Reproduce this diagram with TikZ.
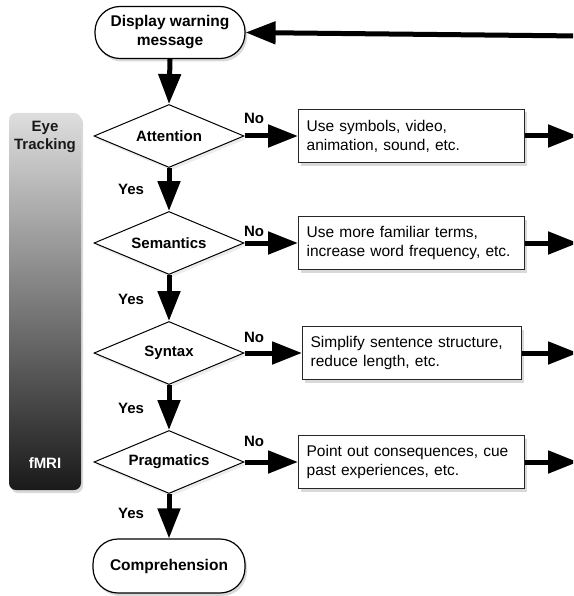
\documentclass[tikz,border=0pt]{standalone}
\usepackage{fontspec}
\setmainfont{Liberation Sans}
\usetikzlibrary{shapes.geometric,arrows.meta,shadows}
\begin{document}
\begin{tikzpicture}[x=1pt,y=-1pt,
 softshadow/.style={drop shadow={opacity=0.3,shadow xshift=2pt,shadow yshift=-3pt}},
 term/.style={draw=black, line width=1.2pt, rounded corners=25pt, minimum width=150pt, minimum height=52pt, fill=white, align=center, font=\bfseries\fontsize{15.5}{19}\selectfont, inner sep=0pt, softshadow},
 decision/.style={diamond, draw=black, line width=1pt, fill=white, minimum width=150pt, minimum height=63pt, aspect=2.4, inner sep=0pt, font=\bfseries\fontsize{15}{18}\selectfont, drop shadow={opacity=0.15,shadow xshift=2pt,shadow yshift=-3pt}},
 action/.style={draw=black!85, line width=1.3pt, fill=white, minimum height=53pt, text width=210pt, align=left, inner sep=8pt, anchor=west, font=\fontsize{15.5}{19}\selectfont, softshadow},
 flow/.style={line width=5pt, -{Triangle[length=30pt,width=22pt]}},
 lab/.style={font=\bfseries\fontsize{15}{18}\selectfont, inner sep=0pt}
]
\useasboundingbox (0,0) rectangle (573,596);
\clip (0,0) rectangle (573,596);

% left bar
\node (bar) [rounded corners=7pt, minimum width=72pt, minimum height=377pt, top color=black!13, bottom color=black!90, softshadow] at (45,301.5) {};
\node (eye) [lab, align=center, text=black!90] at (45,137) {Eye\\Tracking};
\node (fmri) [lab, text=white] at (45,463) {fMRI};

% main column
\node (disp) [term] at (170,32.5) {Display warning\\message};
\node (att) [decision] at (169,136) {Attention};
\node (sem) [decision] at (169,243) {Semantics};
\node (syn) [decision] at (169,353) {Syntax};
\node (prag) [decision] at (169,462) {Pragmatics};
\node (comp) [term, minimum width=152pt, minimum height=54pt] at (169,566) {Comprehension};

% action boxes
\node (a1) [action] at (298,136) {Use symbols, video,\\animation, sound, etc.};
\node (a2) [action] at (298,243) {Use more familiar terms,\\increase word frequency, etc.};
\node (a3) [action, text width=203pt] at (302,353) {Simplify sentence structure,\\reduce length, etc.};
\node (a4) [action] at (298,462) {Point out consequences, cue\\past experiences, etc.};

% free ends
\coordinate (topin) at (580,36);
\coordinate (r1) at (578,136);
\coordinate (r2) at (578,243);
\coordinate (r3) at (578,353);
\coordinate (r4) at (578,462);

% vertical flow
\draw[flow] (disp.south) -- (att.north);
\draw[flow] (att.south) -- (sem.north);
\draw[flow] (sem.south) -- (syn.north);
\draw[flow] (syn.south) -- (prag.north);
\draw[flow] (prag.south) -- (comp.north);

% no branches
\draw[flow] (att.east) -- (a1.west);
\draw[flow] (sem.east) -- (a2.west);
\draw[flow] (syn.east) -- (a3.west);
\draw[flow] (prag.east) -- (a4.west);

% outgoing
\draw[flow] (a1.east) -- (r1);
\draw[flow] (a2.east) -- (r2);
\draw[flow] (a3.east) -- (r3);
\draw[flow] (a4.east) -- (r4);
\draw[flow] (topin) -- (disp.east);

% labels
\node (y1) [lab] at (131,189) {Yes};
\node (y2) [lab] at (131,299) {Yes};
\node (y3) [lab] at (131,408) {Yes};
\node (y4) [lab] at (131,513) {Yes};
\node (n1) [lab] at (254,118) {No};
\node (n2) [lab] at (254,231) {No};
\node (n3) [lab] at (254,337) {No};
\node (n4) [lab] at (254,441) {No};
\end{tikzpicture}
\end{document}
